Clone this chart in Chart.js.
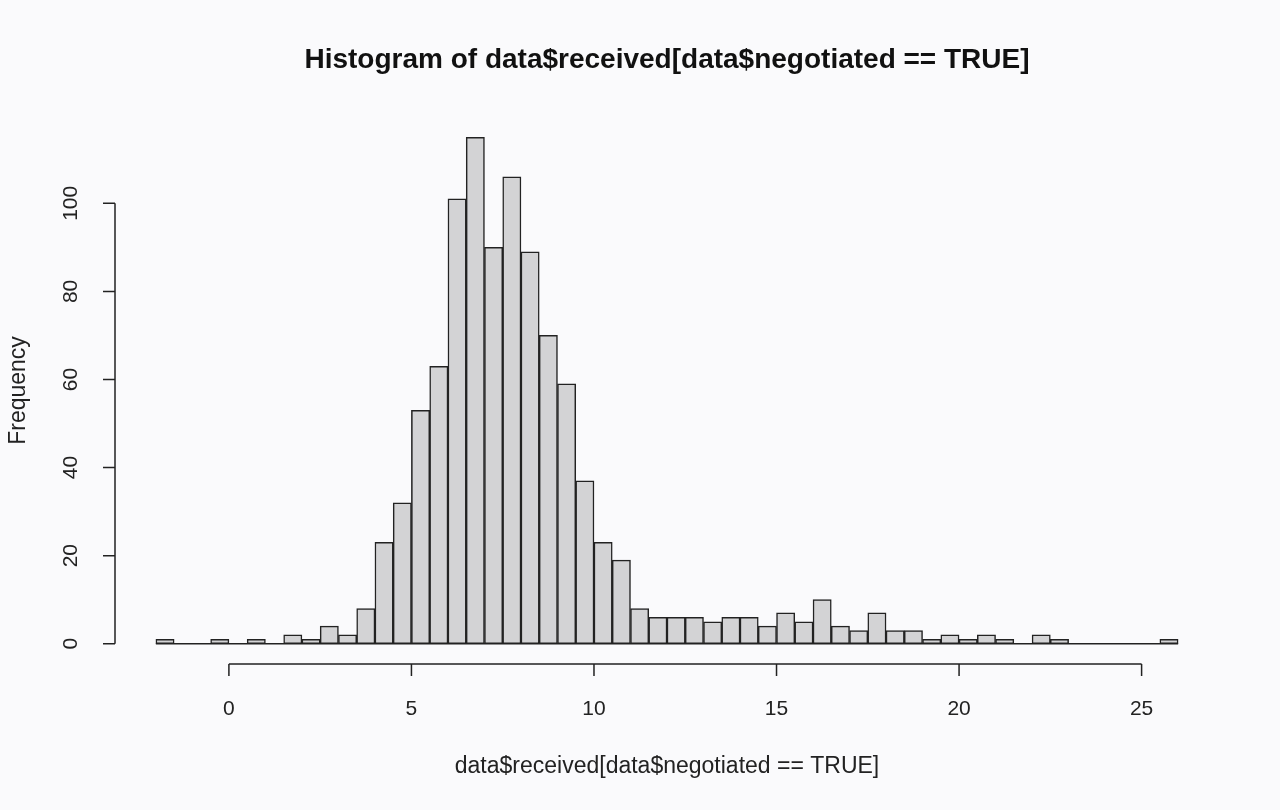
<!DOCTYPE html>
<html lang="en">
<head>
  <meta charset="UTF-8">
  <title>Histogram</title>
  <script src="https://cdn.jsdelivr.net/npm/chart.js"></script>
  <style>
    body {
      margin: 0;
      background-color: #fafafc;
    }
    #wrap {
      width: 1280px;
      height: 810px;
    }
  </style>
</head>
<body>
  <div id="wrap">
    <canvas id="hist" width="1280" height="810"></canvas>
  </div>

  <script>
    // bin lower edges (width 0.5) and counts
    const binStarts = [-2, -1.5, -1, -0.5, 0, 0.5, 1, 1.5, 2, 2.5, 3, 3.5, 4, 4.5, 5, 5.5,
      6, 6.5, 7, 7.5, 8, 8.5, 9, 9.5, 10, 10.5, 11, 11.5, 12, 12.5, 13, 13.5,
      14, 14.5, 15, 15.5, 16, 16.5, 17, 17.5, 18, 18.5, 19, 19.5, 20, 20.5, 21, 21.5,
      22, 22.5, 23, 23.5, 24, 24.5, 25, 25.5];
    const counts = [1, 0, 0, 1, 0, 1, 0, 2, 1, 4, 2, 8, 23, 32, 53, 63,
      101, 115, 90, 106, 89, 70, 59, 37, 23, 19, 8, 6, 6, 6, 5, 6,
      6, 4, 7, 5, 10, 4, 3, 7, 3, 3, 1, 2, 1, 2, 1, 0,
      2, 1, 0, 0, 0, 0, 0, 1];
    const binWidth = 0.5;
    const xTicks = [0, 5, 10, 15, 20, 25];
    const yTicks = [0, 20, 40, 60, 80, 100];

    const titleText = 'Histogram of data$received[data$negotiated == TRUE]';
    const xLabel = 'data$received[data$negotiated == TRUE]';
    const yLabel = 'Frequency';

    const FONT = "'Liberation Sans', Arial, Helvetica, sans-serif";
    const INK = '#222222';

    // R-style detached axes, drawn from the chart's own scales
    const rAxes = {
      id: 'rAxes',
      afterDatasetsDraw(chart) {
        const ctx = chart.ctx;
        const xs = chart.scales.x, ys = chart.scales.y;
        const area = chart.chartArea;
        ctx.save();
        ctx.strokeStyle = INK;
        ctx.fillStyle = INK;
        ctx.lineWidth = 1.5;

        // baseline under empty bins
        const y0 = ys.getPixelForValue(0);
        ctx.beginPath();
        ctx.moveTo(xs.getPixelForValue(binStarts[0]), y0);
        ctx.lineTo(xs.getPixelForValue(binStarts[binStarts.length - 1] + binWidth), y0);
        ctx.stroke();

        // x axis
        const ax = area.bottom;
        ctx.beginPath();
        ctx.moveTo(xs.getPixelForValue(xTicks[0]), ax);
        ctx.lineTo(xs.getPixelForValue(xTicks[xTicks.length - 1]), ax);
        xTicks.forEach(t => {
          const px = xs.getPixelForValue(t);
          ctx.moveTo(px, ax);
          ctx.lineTo(px, ax + 12);
        });
        ctx.stroke();
        ctx.font = '21px ' + FONT;
        ctx.textAlign = 'center';
        ctx.textBaseline = 'middle';
        xTicks.forEach(t => ctx.fillText(String(t), xs.getPixelForValue(t), ax + 45));

        // y axis
        const ay = area.left;
        ctx.beginPath();
        ctx.moveTo(ay, ys.getPixelForValue(yTicks[0]));
        ctx.lineTo(ay, ys.getPixelForValue(yTicks[yTicks.length - 1]));
        yTicks.forEach(t => {
          const py = ys.getPixelForValue(t);
          ctx.moveTo(ay, py);
          ctx.lineTo(ay - 12, py);
        });
        ctx.stroke();
        yTicks.forEach(t => {
          ctx.save();
          ctx.translate(ay - 44, ys.getPixelForValue(t));
          ctx.rotate(-Math.PI / 2);
          ctx.fillText(String(t), 0, 0);
          ctx.restore();
        });

        // axis titles
        ctx.font = '23px ' + FONT;
        ctx.fillText(xLabel, (area.left + area.right) / 2, 767);
        ctx.save();
        ctx.translate(19, (area.top + area.bottom) / 2);
        ctx.rotate(-Math.PI / 2);
        ctx.fillText(yLabel, 0, 0);
        ctx.restore();

        // main title
        ctx.fillStyle = '#111111';
        ctx.font = 'bold 28px ' + FONT;
        ctx.fillText(titleText, (area.left + area.right) / 2, 60);
        ctx.restore();
      }
    };

    const ctx = document.getElementById('hist').getContext('2d');
    new Chart(ctx, {
      type: 'bar',
      data: {
        datasets: [{
          data: binStarts.map((s, i) => ({ x: s + binWidth / 2, y: counts[i] })),
          backgroundColor: '#d3d3d5',
          borderColor: INK,
          borderWidth: 1.5,
          borderSkipped: false,
          barPercentage: 1,
          categoryPercentage: 1
        }]
      },
      options: {
        responsive: false,
        animation: false,
        layout: {
          padding: { left: 115, right: 61, top: 117, bottom: 146 }
        },
        plugins: {
          legend: { display: false },
          title: { display: false },
          tooltip: { enabled: false }
        },
        scales: {
          x: { type: 'linear', min: -3.12, max: 27.12, offset: false, display: false },
          y: { type: 'linear', min: -4.6, max: 119.6, display: false }
        }
      },
      plugins: [rAxes]
    });
  </script>
</body>
</html>
